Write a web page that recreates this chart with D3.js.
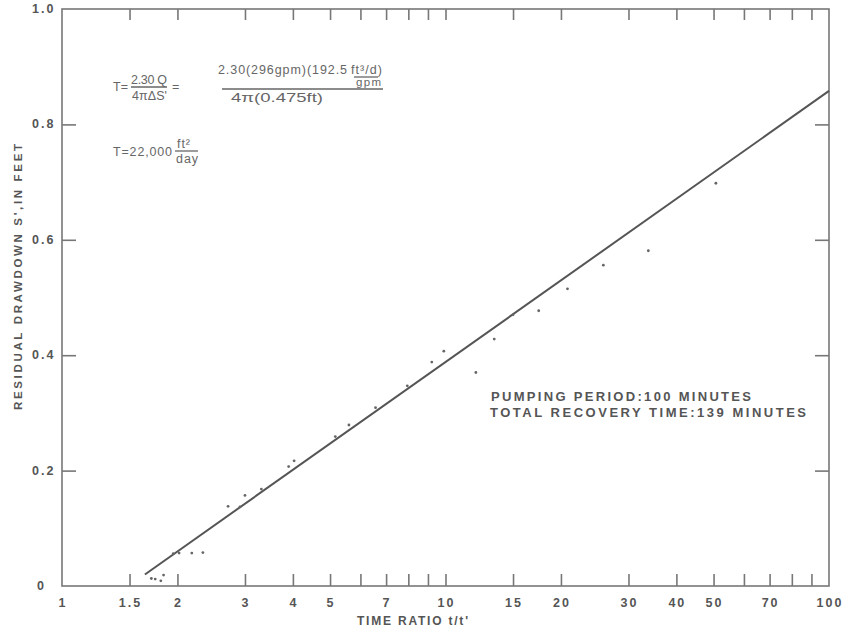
<!DOCTYPE html>
<html>
<head>
<meta charset="utf-8">
<script src="https://cdn.jsdelivr.net/npm/d3@7"></script>
<style>
  body { margin: 0; background: #fff; }
  text { font-family: "Liberation Sans", Arial, sans-serif; fill: #555; }
  .lab { font-weight: bold; font-size: 12.5px; letter-spacing: 2px; }
  .frm { font-size: 12px; fill: #666; }
</style>
</head>
<body>
<script>
'use strict';

// time ratio t/t' and residual drawdown s' (ft)
var timeRatio = [1.71, 1.75, 1.81, 1.84, 1.95, 2.02, 2.18, 2.33, 2.71, 2.91, 3.0, 3.31,
  3.90, 4.03, 5.16, 5.60, 6.57, 7.95, 9.21, 9.90, 12.0, 13.4, 15.0, 17.5, 20.8, 25.8, 33.8, 50.7];
var drawdown = [0.013, 0.012, 0.009, 0.019, 0.056, 0.057, 0.057, 0.058, 0.138, 0.137, 0.157, 0.168,
  0.207, 0.217, 0.259, 0.279, 0.309, 0.347, 0.388, 0.407, 0.370, 0.428, 0.470, 0.477, 0.515, 0.556, 0.581, 0.698];

// fitted straight line
var lineT = [1.645, 100];
var lineS = [0.02, 0.858];

var xTicks = [1.5, 2, 3, 4, 5, 6, 7, 8, 9, 10, 15, 20, 30, 40, 50, 60, 70, 80, 90];
var xLabels = [1, 1.5, 2, 3, 4, 5, 7, 10, 15, 20, 30, 40, 50, 70, 100];
var yTicks = [0.2, 0.4, 0.6, 0.8];
var yLabels = [0, 0.2, 0.4, 0.6, 0.8, 1.0];

var width = 849, height = 634;
var plotLeft = 62, plotRight = 829, plotTop = 9, plotBottom = 586;

var svg = d3.select('body').append('svg')
  .attr('width', width)
  .attr('height', height);

var x = d3.scaleLog().domain([1, 100]).range([plotLeft, plotRight]);
var y = d3.scaleLinear().domain([0, 1]).range([plotBottom, plotTop]);

// frame
svg.append('rect')
  .attr('x', plotLeft).attr('y', plotTop)
  .attr('width', plotRight - plotLeft).attr('height', plotBottom - plotTop)
  .attr('fill', 'none')
  .attr('stroke', '#777')
  .attr('stroke-width', 1.6);

function styleTicks(g) {
  g.select('.domain').remove();
  g.selectAll('.tick line').attr('stroke', '#777').attr('stroke-width', 1.6);
  g.selectAll('.tick text').remove();
}

svg.append('g')
  .attr('transform', 'translate(0,' + plotBottom + ')')
  .call(d3.axisBottom(x).tickValues(xTicks).tickSize(-12))
  .call(styleTicks);

svg.append('g')
  .attr('transform', 'translate(0,' + plotTop + ')')
  .call(d3.axisTop(x).tickValues(xTicks).tickSize(-11))
  .call(styleTicks);

svg.append('g')
  .attr('transform', 'translate(' + plotLeft + ',0)')
  .call(d3.axisLeft(y).tickValues(yTicks).tickSize(-14))
  .call(styleTicks);

svg.append('g')
  .attr('transform', 'translate(' + plotRight + ',0)')
  .call(d3.axisRight(y).tickValues(yTicks).tickSize(-14))
  .call(styleTicks);

// tick labels
svg.append('g').selectAll('text')
  .data(xLabels)
  .enter().append('text')
    .attr('class', 'lab')
    .attr('x', function(d) { return x(d) + 1; })
    .attr('y', plotBottom + 21)
    .attr('text-anchor', 'middle')
    .text(function(d) { return d; });

svg.append('g').selectAll('text')
  .data(yLabels)
  .enter().append('text')
    .attr('class', 'lab')
    .attr('x', function(d) { return d === 0 ? 37 : 32; })
    .attr('y', function(d) { return y(d) + 4; })
    .text(function(d) { return d === 0 ? '0' : d.toFixed(1); });

// axis titles
svg.append('text')
  .attr('class', 'lab')
  .attr('x', 357).attr('y', 625)
  .attr('textLength', 113)
  .style('font-size', '12px')
  .text("TIME RATIO t/t'");

svg.append('text')
  .attr('class', 'lab')
  .attr('transform', 'translate(22,410) rotate(-90)')
  .attr('textLength', 268)
  .style('font-size', '11.5px')
  .text("RESIDUAL DRAWDOWN S',IN FEET");

// fitted line
svg.append('path')
  .datum(d3.zip(lineT, lineS))
  .attr('d', d3.line().x(function(d) { return x(d[0]); }).y(function(d) { return y(d[1]); }))
  .attr('stroke', '#555')
  .attr('stroke-width', 2)
  .attr('fill', 'none');

// observed points
svg.append('g').selectAll('circle')
  .data(d3.zip(timeRatio, drawdown))
  .enter().append('circle')
    .attr('cx', function(d) { return x(d[0]); })
    .attr('cy', function(d) { return y(d[1]); })
    .attr('r', 1.4)
    .attr('fill', '#666');

// notes
svg.append('text').attr('class', 'lab')
  .attr('x', 491).attr('y', 401)
  .attr('textLength', 262)
  .style('font-size', '13px')
  .text('PUMPING PERIOD:100 MINUTES');
svg.append('text').attr('class', 'lab')
  .attr('x', 490).attr('y', 417)
  .attr('textLength', 318)
  .style('font-size', '13px')
  .text('TOTAL RECOVERY TIME:139 MINUTES');

// formula
var f = svg.append('g');
function ftext(tx, ty, s, len, size, adjust) {
  var t = f.append('text').attr('class', 'frm')
    .attr('x', tx).attr('y', ty)
    .style('font-size', (size || 12.5) + 'px')
    .text(s);
  if (len) t.attr('textLength', len).attr('lengthAdjust', adjust || 'spacing');
  return t;
}
function fline(x1, x2, ly) {
  f.append('line').attr('x1', x1).attr('x2', x2).attr('y1', ly).attr('y2', ly)
    .attr('stroke', '#666').attr('stroke-width', 1.3);
}
ftext(113, 91, 'T=', 15);
ftext(131, 84, '2.30 Q', 36);
fline(131, 167, 87);
ftext(132, 100, '4\u03C0\u0394S\'', 35);
ftext(172, 91, '=');
ftext(218, 74, '2.30(296gpm)(192.5', 129);
ftext(351, 74, 'ft\u00B3/d)', 31);
fline(354, 378, 77);
ftext(356, 86, 'gpm', 25, 11.5);
fline(222, 383, 89);
ftext(231, 102, '4\u03C0(0.475ft)', 92, 13.5, 'spacingAndGlyphs');

ftext(113, 156, 'T=22,000', 59);
ftext(177, 148, 'ft\u00B2', 13);
fline(175, 198, 151);
ftext(176, 163, 'day', 22);
</script>
</body>
</html>
